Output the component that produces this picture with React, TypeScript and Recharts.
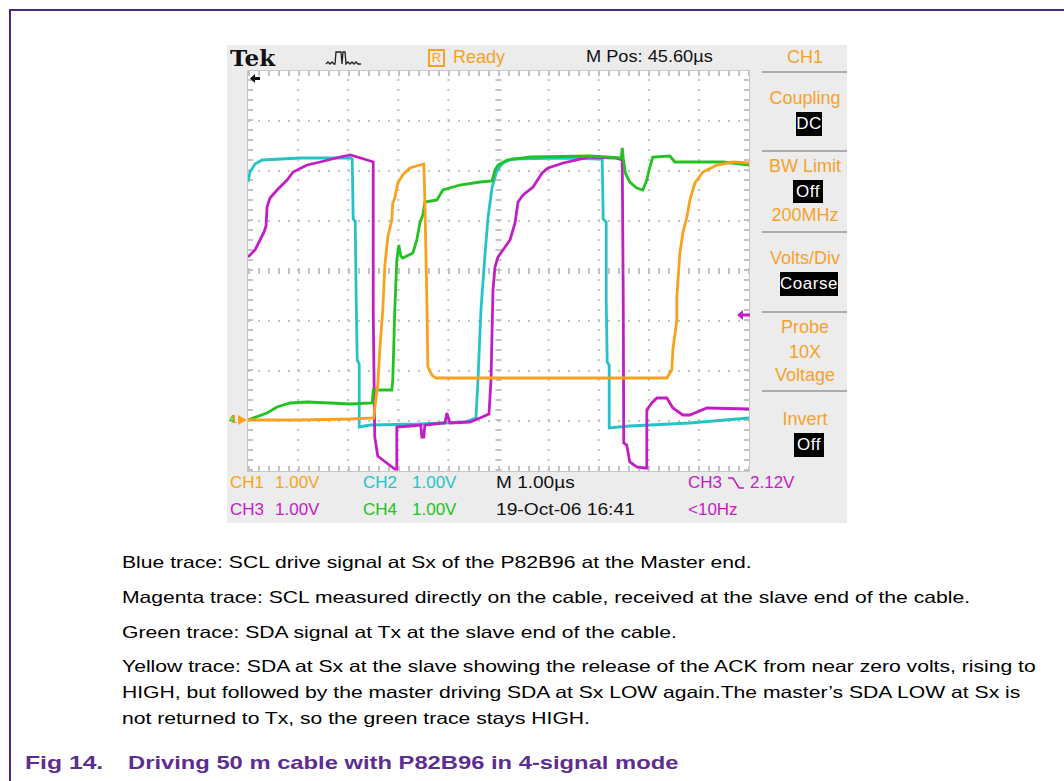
import React from "react";
import { LineChart, Line, XAxis, YAxis, ReferenceLine } from "recharts";

// scope screen: 10 divisions across (1.00 us/div), 8 divisions up
const timeDomain = [0, 10];
const levelDomain = [0, 8];
const gridTimes = [1, 2, 3, 4, 6, 7, 8, 9];
const gridLevels = [1, 2, 3, 5, 6, 7];

// [time in div, level in div from bottom of screen]
const ch1Yellow = [
  [0, 1.02], [1.04, 1.02], [2.04, 1.04], [2.51, 1.06], [2.55, 1.42], [2.59, 1.72],
  [2.63, 2.42], [2.69, 3.22], [2.73, 4.08], [2.79, 4.68], [2.87, 5.02], [2.89, 5.36],
  [2.93, 5.46], [2.99, 5.76], [3.09, 5.92], [3.23, 6.06], [3.43, 6.12], [3.51, 6.14],
  [3.53, 5.42], [3.57, 3.42], [3.59, 2.08], [3.67, 1.92], [3.75, 1.86], [5.5, 1.86],
  [7.0, 1.86], [8.36, 1.86], [8.46, 2.02], [8.48, 2.42], [8.56, 3.02], [8.56, 3.48],
  [8.62, 4.36], [8.68, 4.76], [8.76, 5.08], [8.82, 5.42], [8.92, 5.76], [9.08, 5.98],
  [9.36, 6.12], [9.68, 6.18], [10, 6.16],
];

const ch2Cyan = [
  [0, 5.78], [0.04, 5.98], [0.14, 6.14], [0.28, 6.22], [1.04, 6.26], [2.04, 6.26],
  [2.08, 6.24], [2.1, 5.04], [2.14, 5.0], [2.16, 3.42], [2.18, 2.22], [2.22, 2.14],
  [2.22, 0.88], [2.44, 0.92], [3.43, 0.94], [4.33, 0.98], [4.55, 1.06], [4.59, 1.82],
  [4.65, 3.22], [4.73, 4.32], [4.79, 5.06], [4.87, 5.66], [4.97, 6.02], [5.09, 6.16],
  [5.27, 6.24], [6.23, 6.26], [7.07, 6.24], [7.09, 5.04], [7.15, 4.98], [7.15, 3.42],
  [7.17, 2.18], [7.21, 2.12], [7.21, 0.86], [7.62, 0.9], [8.82, 0.96], [10, 1.06],
];

const ch3Magenta = [
  [0, 4.28], [0.14, 4.42], [0.24, 4.62], [0.32, 4.78], [0.36, 4.9], [0.38, 5.28],
  [0.44, 5.46], [0.58, 5.62], [0.78, 5.82], [0.9, 5.98], [1.18, 6.12], [1.44, 6.18],
  [1.84, 6.28], [2.04, 6.32], [2.38, 6.22], [2.5, 6.18], [2.5, 3.16], [2.53, 0.68],
  [2.59, 0.3], [2.69, 0.22], [2.77, 0.16], [2.93, 0.04], [2.97, 0.04], [2.97, 0.88],
  [3.23, 0.9], [3.45, 0.92], [3.47, 0.68], [3.51, 0.68], [3.53, 0.92], [3.93, 0.96],
  [3.97, 1.16], [4.03, 0.96], [4.43, 0.98], [4.63, 1.06], [4.81, 1.14], [4.85, 1.82],
  [4.89, 3.62], [4.93, 4.08], [4.99, 4.28], [5.23, 4.62], [5.33, 4.96], [5.39, 5.38],
  [5.49, 5.52], [5.69, 5.68], [5.87, 5.96], [5.99, 6.06], [6.29, 6.16], [6.83, 6.28],
  [7.33, 6.26], [7.47, 6.22], [7.49, 3.42], [7.5, 0.56], [7.56, 0.52], [7.62, 0.18],
  [7.76, 0.08], [7.92, 0.06], [7.96, 0.06], [7.96, 1.22], [8.06, 1.36], [8.16, 1.46],
  [8.36, 1.46], [8.48, 1.26], [8.68, 1.12], [8.82, 1.12], [9.16, 1.26], [10, 1.24],
];

const ch4Green = [
  [0, 1.02], [0.1, 1.06], [0.38, 1.16], [0.58, 1.28], [0.84, 1.36], [1.18, 1.38],
  [1.64, 1.36], [2.04, 1.34], [2.48, 1.36], [2.5, 1.62], [2.87, 1.62], [2.89, 1.82],
  [2.93, 3.22], [2.97, 4.22], [3.01, 4.52], [3.05, 4.3], [3.09, 4.26], [3.29, 4.36],
  [3.37, 4.62], [3.43, 4.96], [3.49, 5.12], [3.53, 5.38], [3.77, 5.42], [3.89, 5.62],
  [4.23, 5.72], [4.63, 5.78], [4.87, 5.8], [4.93, 6.02], [4.99, 6.12], [5.17, 6.22],
  [5.63, 6.28], [6.83, 6.3], [7.45, 6.26], [7.47, 6.46], [7.49, 6.26], [7.53, 5.96],
  [7.62, 5.78], [7.76, 5.66], [7.88, 5.62], [7.96, 5.82], [8.02, 6.08], [8.08, 6.28],
  [8.42, 6.3], [8.52, 6.18], [8.96, 6.18], [9.48, 6.18], [10, 6.12],
];

const YELLOW = "#f9a21e";
const CYAN = "#25c3c8";
const MAGENTA = "#c21ec6";
const GREEN = "#22c222";
const GRID = "#c2c2c2";
const PANEL_TEXT = "#f7a12a";
const PURPLE = "#4b2a85";
const CAPTION = "#5e2d91";

const toPoints = (pairs: number[][]) => pairs.map(([t, v]) => ({ t, v }));

const sans = '"Liberation Sans", Arial, sans-serif';

// text placed by left edge and vertical centre; sx stretches it horizontally
const T = ({ x, y, size = 17, color = "#111", weight = 400, family = sans, children, w, center, sx = 1 }: any) => (
  <div
    style={{
      position: "absolute",
      left: x,
      top: y - size * 0.52,
      width: w,
      textAlign: center ? "center" : "left",
      fontSize: size,
      lineHeight: 1,
      color,
      fontWeight: weight,
      fontFamily: family,
      whiteSpace: "nowrap",
      transform: sx !== 1 ? `scaleX(${sx})` : undefined,
      transformOrigin: "0 50%",
    }}
  >
    {children}
  </div>
);

const InvBox = ({ x, y, w, h, text }: any) => (
  <div
    style={{
      position: "absolute",
      left: x,
      top: y,
      width: w,
      height: h,
      background: "#000",
      color: "#fff",
      fontFamily: sans,
      fontSize: 17,
      lineHeight: h + "px",
      textAlign: "center",
      letterSpacing: 0.5,
    }}
  >
    {text}
  </div>
);

const Sep = ({ y }: any) => (
  <div style={{ position: "absolute", left: 762, top: y, width: 85, height: 2, background: "#acacac" }} />
);

const Scope = () => (
  <div style={{ position: "absolute", left: 248, top: 71, width: 501, height: 400, background: "#fff", boxShadow: "0 0 0 1px #c8c8c8" }}>
    <LineChart width={501} height={400} margin={{ top: 0, right: 0, bottom: 0, left: 0 }}>
      <XAxis dataKey="t" type="number" domain={timeDomain} hide allowDataOverflow />
      <YAxis type="number" domain={levelDomain} hide allowDataOverflow />
      {gridTimes.map((t) => (
        <ReferenceLine key={"gx" + t} x={t} stroke={GRID} strokeWidth={2} strokeDasharray="2 8" />
      ))}
      {gridLevels.map((v) => (
        <ReferenceLine key={"gy" + v} y={v} stroke={GRID} strokeWidth={2} strokeDasharray="2 8" />
      ))}
      <ReferenceLine x={5} stroke={GRID} strokeWidth={6} strokeDasharray="2 8" />
      <ReferenceLine y={4} stroke={GRID} strokeWidth={6} strokeDasharray="2 8" />
      <ReferenceLine x={0.05} stroke={GRID} strokeWidth={5} strokeDasharray="2 8" />
      <ReferenceLine x={9.95} stroke={GRID} strokeWidth={5} strokeDasharray="2 8" />
      <ReferenceLine y={0.05} stroke={GRID} strokeWidth={5} strokeDasharray="2 8" />
      <ReferenceLine y={7.95} stroke={GRID} strokeWidth={5} strokeDasharray="2 8" />
      <Line data={toPoints(ch2Cyan)} dataKey="v" type="linear" stroke={CYAN} strokeWidth={2.8} dot={false} isAnimationActive={false} />
      <Line data={toPoints(ch3Magenta)} dataKey="v" type="linear" stroke={MAGENTA} strokeWidth={2.8} dot={false} isAnimationActive={false} />
      <Line data={toPoints(ch4Green)} dataKey="v" type="linear" stroke={GREEN} strokeWidth={2.8} dot={false} isAnimationActive={false} />
      <Line data={toPoints(ch1Yellow)} dataKey="v" type="linear" stroke={YELLOW} strokeWidth={2.8} dot={false} isAnimationActive={false} />
    </LineChart>
  </div>
);

export default function App() {
  return (
    <div style={{ position: "absolute", left: 0, top: 0, width: 1064, height: 781, background: "#fff", overflow: "hidden", fontFamily: sans }}>
      {/* page frame */}
      <div style={{ position: "absolute", left: 10, top: 9, width: 1054, height: 2, background: PURPLE }} />
      <div style={{ position: "absolute", left: 9, top: 9, width: 2, height: 772, background: PURPLE }} />

      {/* scope bezel */}
      <div style={{ position: "absolute", left: 227, top: 45, width: 620, height: 478, background: "#ececec" }} />
      <Scope />

      {/* header */}
      <T x={230} y={58} size={22} weight={700} color="#111" family='"DejaVu Serif", serif' sx={1.05}>Tek</T>
      <svg style={{ position: "absolute", left: 325, top: 50 }} width={38} height={16}>
        <path d="M1 14 L3 12 L5 14 L7 12 L9 14 L10 14 L11 2 L16 2 L17 14 L18 2 L20 2 L21 14 L23 12 L25 14 L27 12 L29 14 L31 12 L33 14 L36 14" fill="none" stroke="#222" strokeWidth={1.3} />
      </svg>
      <div style={{ position: "absolute", left: 428, top: 49, width: 13, height: 14, border: "2px solid " + YELLOW, color: YELLOW, fontSize: 13, lineHeight: "14px", textAlign: "center", fontFamily: sans }}>R</div>
      <T x={453} y={57} size={18} color={YELLOW}>Ready</T>
      <T x={586} y={57} size={17} color="#111" sx={1.07}>M Pos: 45.60µs</T>

      {/* markers on the graticule */}
      <svg style={{ position: "absolute", left: 250, top: 74 }} width={10} height={9}>
        <polygon points="0,4.5 5,0 5,3 10,3 10,6 5,6 5,9" fill="#111" />
      </svg>
      <svg style={{ position: "absolute", left: 737, top: 310 }} width={13} height={10}>
        <polygon points="0,5 6,0 6,3.5 13,3.5 13,6.5 6,6.5 6,10" fill={MAGENTA} />
      </svg>
      <T x={229} y={420} size={11} weight={700} color={GREEN}>4</T>
      <T x={231} y={420} size={11} weight={700} color={YELLOW}>1</T>
      <svg style={{ position: "absolute", left: 238, top: 415 }} width={9} height={10}>
        <polygon points="0,0 9,5 0,10" fill={YELLOW} />
      </svg>

      {/* right menu */}
      <T x={762} y={57} w={86} center size={18} color={PANEL_TEXT}>CH1</T>
      <Sep y={71} />
      <T x={762} y={98} w={86} center size={18} color={PANEL_TEXT}>Coupling</T>
      <InvBox x={796} y={112} w={26} h={24} text="DC" />
      <Sep y={150} />
      <T x={762} y={166} w={86} center size={18} color={PANEL_TEXT}>BW Limit</T>
      <InvBox x={793} y={180} w={30} h={23} text="Off" />
      <T x={762} y={215} w={86} center size={18} color={PANEL_TEXT}>200MHz</T>
      <Sep y={231} />
      <T x={762} y={258} w={86} center size={18} color={PANEL_TEXT}>Volts/Div</T>
      <InvBox x={780} y={272} w={58} h={24} text="Coarse" />
      <Sep y={311} />
      <T x={762} y={327} w={86} center size={18} color={PANEL_TEXT}>Probe</T>
      <T x={762} y={352} w={86} center size={18} color={PANEL_TEXT}>10X</T>
      <T x={762} y={375} w={86} center size={18} color={PANEL_TEXT}>Voltage</T>
      <Sep y={390} />
      <T x={762} y={419} w={86} center size={18} color={PANEL_TEXT}>Invert</T>
      <InvBox x={794} y={433} w={30} h={24} text="Off" />

      {/* readout */}
      <T x={230} y={483} color={YELLOW}>CH1</T>
      <T x={275} y={483} color={YELLOW}>1.00V</T>
      <T x={363} y={483} color={CYAN}>CH2</T>
      <T x={412} y={483} color={CYAN}>1.00V</T>
      <T x={496} y={483} color="#111" sx={1.12}>M 1.00µs</T>
      <T x={688} y={483} color={MAGENTA}>CH3</T>
      <svg style={{ position: "absolute", left: 727, top: 476 }} width={18} height={14}>
        <path d="M1 2 L6 2 L12 12 L17 12" fill="none" stroke={MAGENTA} strokeWidth={1.6} />
      </svg>
      <T x={750} y={483} color={MAGENTA}>2.12V</T>
      <T x={230} y={510} color={MAGENTA}>CH3</T>
      <T x={275} y={510} color={MAGENTA}>1.00V</T>
      <T x={363} y={510} color={GREEN}>CH4</T>
      <T x={412} y={510} color={GREEN}>1.00V</T>
      <T x={496} y={510} color="#111" sx={1.13}>19-Oct-06 16:41</T>
      <T x={688} y={510} color={MAGENTA}>&lt;10Hz</T>

      {/* description */}
      <T x={122} y={563} size={16.5} color="#000" sx={1.28}>Blue trace: SCL drive signal at Sx of the P82B96 at the Master end.</T>
      <T x={122} y={598} size={16.5} color="#000" sx={1.28}>Magenta trace: SCL measured directly on the cable, received at the slave end of the cable.</T>
      <T x={122} y={633} size={16.5} color="#000" sx={1.28}>Green trace: SDA signal at Tx at the slave end of the cable.</T>
      <T x={122} y={667} size={16.5} color="#000" sx={1.28}>Yellow trace: SDA at Sx at the slave showing the release of the ACK from near zero volts, rising to</T>
      <T x={122} y={693} size={16.5} color="#000" sx={1.28}>HIGH, but followed by the master driving SDA at Sx LOW again.The master’s SDA LOW at Sx is</T>
      <T x={122} y={719} size={16.5} color="#000" sx={1.28}>not returned to Tx, so the green trace stays HIGH.</T>

      {/* caption */}
      <T x={25} y={763} size={19} weight={700} color={CAPTION} sx={1.3}>Fig 14.</T>
      <T x={128} y={763} size={19} weight={700} color={CAPTION} sx={1.25}>Driving 50 m cable with P82B96 in 4-signal mode</T>
    </div>
  );
}
